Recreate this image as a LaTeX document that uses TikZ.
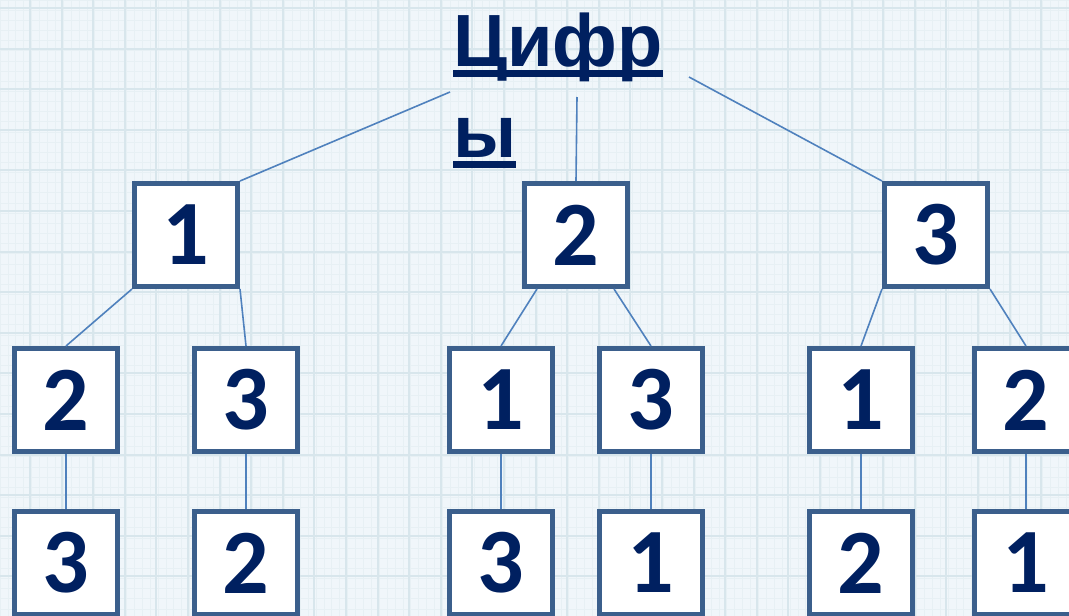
\documentclass[tikz,border=0pt]{standalone}
\usepackage{fontspec}
\setmainfont{Carlito}
\newfontfamily\titlefont{Liberation Sans}
\usetikzlibrary{calc}

\definecolor{navy}{HTML}{002060}
\definecolor{boxedge}{HTML}{3B5F8C}
\definecolor{linkblue}{HTML}{4F81BD}
\definecolor{paper}{HTML}{F0F6FA}
\definecolor{gridline}{HTML}{D8E6EC}
\definecolor{gridfine}{HTML}{E7F0F4}

% thick underline as in the slide title
\newcommand{\thickul}[1]{\setbox0\hbox{#1}\rlap{\color{navy}\rule[-11pt]{\wd0}{7pt}}\box0}

\tikzset{
  digit/.style={draw=boxedge, line width=5pt, fill=white, minimum size=103pt,
    inner sep=0pt, text=navy, font=\fontsize{92}{92}\selectfont\bfseries},
  link/.style={draw=linkblue, line width=1.6pt},
}

\begin{document}
\begin{tikzpicture}[x=1pt,y=-1pt]
  \useasboundingbox (0,0) rectangle (1069,616);
  % squared paper
  \begin{scope}
    \clip (0,0) rectangle (1069,616);
    \fill[paper] (0,0) rectangle (1069,616);
    \foreach \i in {0,...,136} {
      \draw[gridfine, line width=0.8pt] (\i*7.9,0) -- (\i*7.9,616);
    }
    \foreach \i in {0,...,60} {
      \draw[gridfine, line width=0.8pt] (0,\i*10.15) -- (1069,\i*10.15);
    }
    \foreach \i in {0,...,34} {
      \draw[gridline, line width=2pt] (\i*31.6-1.6,0) -- (\i*31.6-1.6,616);
    }
    \foreach \i in {0,...,15} {
      \draw[gridline, line width=2pt] (0,8+\i*40.6) -- (1069,8+\i*40.6);
    }
  \end{scope}

  % title, broken over two lines
  \node[anchor=base west, inner sep=0pt, text=navy, align=left,
    font=\titlefont\fontsize{74}{91}\selectfont\bfseries] (title) at (453,157)
    {\thickul{Цифр}\\\thickul{ы}};
  \coordinate (tl) at (450,92);
  \coordinate (tm) at (577,97);
  \coordinate (tr) at (689,77);

  % first digit
  \node[digit] (d1) at (186,235) {1};
  \node[digit] (d2) at (576,235) {2};
  \node[digit] (d3) at (936,235) {3};

  % second digit
  \node[digit] (d12) at (66,400) {2};
  \node[digit] (d13) at (246,400) {3};
  \node[digit] (d21) at (501,400) {1};
  \node[digit] (d23) at (651,400) {3};
  \node[digit] (d31) at (861,400) {1};
  \node[digit] (d32) at (1026,400) {2};

  % third digit
  \node[digit] (d123) at (66,563) {3};
  \node[digit] (d132) at (246,563) {2};
  \node[digit] (d213) at (501,563) {3};
  \node[digit] (d231) at (651,563) {1};
  \node[digit] (d312) at (861,563) {2};
  \node[digit] (d321) at (1026,563) {1};

  % links
  \draw[link] (tl) -- (d1.north east);
  \draw[link] (tm) -- (d2.north);
  \draw[link] (tr) -- (d3.north west);

  \draw[link] (d1.south west) -- (d12.north);
  \draw[link] (d1.south east) -- (d13.north);
  \draw[link] ([xshift=-39pt]d2.south) -- (d21.north);
  \draw[link] ([xshift=38pt]d2.south) -- (d23.north);
  \draw[link] (d3.south west) -- (d31.north);
  \draw[link] (d3.south east) -- (d32.north);

  \draw[link] (d12) -- (d123);
  \draw[link] (d13) -- (d132);
  \draw[link] (d21) -- (d213);
  \draw[link] (d23) -- (d231);
  \draw[link] (d31) -- (d312);
  \draw[link] (d32) -- (d321);
\end{tikzpicture}
\end{document}
